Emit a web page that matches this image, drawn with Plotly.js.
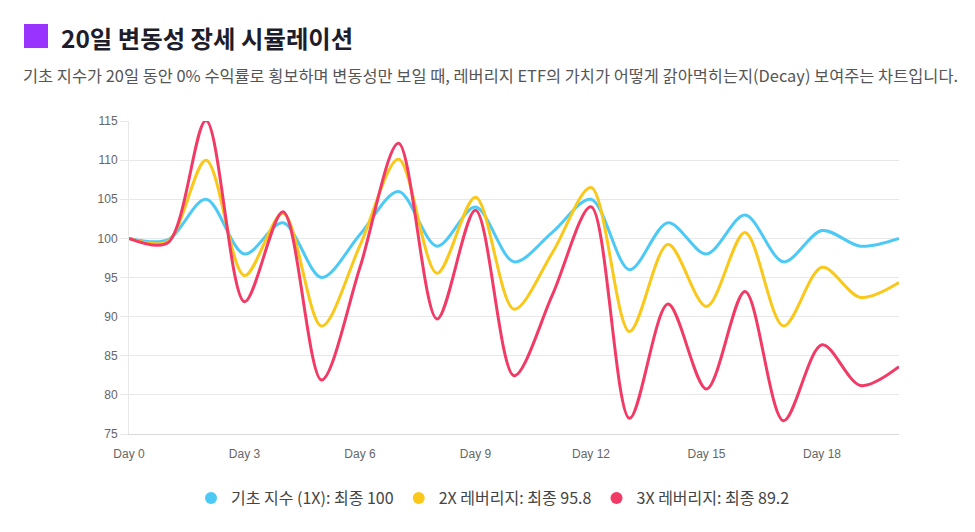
<!DOCTYPE html>
<html>
<head>
<meta charset="utf-8">
<script src="https://cdn.plot.ly/plotly-3.0.1.min.js"></script>
<style>
  html, body { margin: 0; padding: 0; background: #ffffff; }
  #chart { width: 975px; height: 532px; }
</style>
</head>
<body>
<div id="chart"></div>
<script>
// ---- data ----
const days = [0,1,2,3,4,5,6,7,8,9,10,11,12,13,14,15,16,17,18,19,20];
const tickDays = [0,3,6,9,12,15,18];
const tickLabels = ["Day 0","Day 3","Day 6","Day 9","Day 12","Day 15","Day 18"];
const base1x = [100,99.8,105.0,98.0,102.0,95.0,100.5,106.0,99.0,104.0,97.0,100.8,105.0,96.0,102.0,98.0,103.0,97.0,101.0,99.0,100.0];
const lev2x  = [100,99.6,110.0,95.25,103.2,88.8,99.1,110.1,95.55,105.25,90.95,98.2,106.5,88.1,99.25,91.3,100.75,88.8,96.3,92.45,94.35];
const lev3x  = [100,99.4,115.05,91.9,103.4,81.9,96.3,112.15,89.7,103.6,82.45,92.8,104.05,77.0,91.6,80.75,93.2,76.7,86.4,81.2,83.6];
const seriesNames = ["기초 지수 (1X): 최종 100","2X 레버리지: 최종 95.8","3X 레버리지: 최종 89.2"];
const seriesColors = ["#4cc9f5","#f9c81b","#f23a66"];
const titleText = "20일 변동성 장세 시뮬레이션";
const subtitleText = "기초 지수가 20일 동안 0% 수익률로 횡보하며 변동성만 보일 때, 레버리지 ETF의 가치가 어떻게 갉아먹히는지(Decay) 보여주는 차트입니다.";

const W = 975, H = 532;
const M = {l: 129, r: 76, t: 121, b: 98};
const pw = W - M.l - M.r, ph = H - M.t - M.b;
const px = x => (x - M.l) / pw;       // pixel -> paper x
const py = y => (H - M.b - y) / ph;   // pixel -> paper y

const allSeries = [base1x, lev2x, lev3x];
const traces = [];
allSeries.forEach((ys, i) => {
  traces.push({
    x: days, y: ys, type: "scatter", mode: "lines",
    line: {color: seriesColors[i], width: 3, shape: "spline", smoothing: 0.9},
    showlegend: false, hoverinfo: "x+y", name: seriesNames[i]
  });
});
// legend-only entries (circle symbols)
allSeries.forEach((ys, i) => {
  traces.push({
    x: [null], y: [null], type: "scatter", mode: "markers",
    marker: {color: seriesColors[i], size: 13, symbol: "circle"},
    name: seriesNames[i], showlegend: true
  });
});

const font = "'Noto Sans CJK KR', 'Noto Sans', sans-serif";
const tickFont = {family: "'Liberation Sans', Arial, sans-serif", size: 12, color: "#666"};
const layout = {
  width: W, height: H,
  margin: M,
  paper_bgcolor: "#ffffff", plot_bgcolor: "#ffffff",
  font: {family: font, color: "#444"},
  showlegend: true,
  legend: {
    orientation: "h", x: px(493), xanchor: "center", y: py(498), yanchor: "middle",
    font: {family: font, size: 16, color: "#444"},
    itemsizing: "constant", traceorder: "normal", itemwidth: 30
  },
  xaxis: {
    range: [0, 20], tickmode: "array", tickvals: tickDays, ticktext: tickLabels,
    showgrid: false, zeroline: false, showline: true, linecolor: "#d9d9d9", linewidth: 1,
    ticks: "", ticklabelstandoff: 9, tickfont: tickFont,
    fixedrange: true
  },
  yaxis: {
    range: [75, 115], dtick: 5, tick0: 75,
    showgrid: true, gridcolor: "#e8e8e8", gridwidth: 1,
    zeroline: false, showline: true, linecolor: "#e8e8e8", linewidth: 1,
    ticks: "outside", ticklen: 8, tickcolor: "#e8e8e8",
    tickfont: tickFont,
    fixedrange: true
  },
  shapes: [{
    type: "rect", xref: "paper", yref: "paper",
    x0: px(24), x1: px(48), y0: py(48), y1: py(24),
    fillcolor: "#9933ff", line: {width: 0}
  }],
  annotations: [
    {text: "<b>" + titleText + "</b>", xref: "paper", yref: "paper",
     x: px(59), y: py(37), xanchor: "left", yanchor: "middle", showarrow: false,
     font: {family: font, size: 24.4, color: "#1d1d2b"}},
    {text: subtitleText, xref: "paper", yref: "paper",
     x: px(21), y: py(75), xanchor: "left", yanchor: "middle", showarrow: false,
     font: {family: font, size: 16.4, color: "#555"}}
  ]
};

Plotly.newPlot("chart", traces, layout, {displayModeBar: false, staticPlot: true});
</script>
</body>
</html>
